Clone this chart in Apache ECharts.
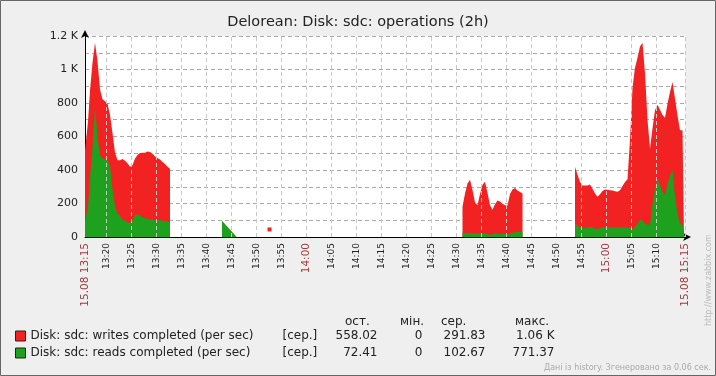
<!DOCTYPE html>
<html>
<head>
<meta charset="utf-8">
<script src="https://cdn.jsdelivr.net/npm/echarts@6/dist/echarts.min.js"></script>
<style>
    html, body {margin: 0; padding: 0; background: #efefef;}
    #chart {width: 716px; height: 376px;}
</style>
</head>
<body>
<div id="chart"></div>
<script>
// graph window: 15.08 13:15:40 .. 15:15:40, x = minutes after left edge
const startMinute = 13 * 60 + 15 + 40 / 60;
const spanMinutes = 120;
const edgeLabels = ['15.08 13:15', '15.08 15:15'];
const tickLabels = ['13:20', '13:25', '13:30', '13:35', '13:40', '13:45', '13:50', '13:55', '14:00',
    '14:05', '14:10', '14:15', '14:20', '14:25', '14:30', '14:35', '14:40', '14:45', '14:50',
    '14:55', '15:00', '15:05', '15:10'];
const redLabels = ['14:00', '15:00'];

const seriesNames = ['Disk: sdc: writes completed (per sec)', 'Disk: sdc: reads completed (per sec)'];
const statHeaders = ['ост.', 'мін.', 'сер.', 'макс.'];
const statLast = ['558.02', '72.41'];
const statMin = ['0', '0'];
const statAvg = ['291.83', '102.67'];
const statMax = ['1.06 K', '771.37'];

// null = no data (gap)
const times = [
    0, 0.4, 0.6, 1, 1.5, 2, 2.5, 3, 3.5, 4, 4.5, 5, 5.5, 6, 6.5, 7, 7.5, 8, 8.5, 9, 9.5,
    10, 10.5, 11, 11.5, 12, 12.5, 13, 13.5, 14, 14.5, 15, 15.5, 16, 16.5, 17,
    17.1,
    27.4, 30.3,
    30.5,
    36.9,
    37,
    75.5, 76, 76.5, 77, 77.5, 78, 78.5, 79, 79.5, 80, 80.5, 81, 81.5, 82, 82.5, 83, 83.5,
    84, 84.5, 85, 85.5, 86, 86.5, 87, 87.5,
    87.6,
    98, 98.5, 99, 99.5, 100, 100.5, 101, 101.5, 102, 102.5,
    103, 103.5, 104, 104.5, 105, 105.5, 106, 106.5, 107, 107.5,
    108, 108.5, 109, 109.5, 110, 110.5, 111, 111.5, 112, 112.5,
    113, 113.5, 114, 114.5, 115, 115.5, 116, 116.5, 117, 117.5,
    118, 118.5, 119, 119.5, 119.8
];
const reads = [
    90, 90, 180, 360, 540, 771, 600, 485, 468, 465, 458, 420, 280, 180, 137, 126, 106, 95, 86, 84, 100,
    128, 138, 128, 118, 113, 109, 105, 103, 100, 100, 100, 98, 96, 92, 86,
    null,
    95, 0,
    null,
    0,
    null,
    26, 25, 24, 24, 23, 23, 22, 22, 22, 22, 18, 14, 16, 22, 20, 16, 20,
    20, 15, 22, 26, 28, 30, 30, 30,
    null,
    80, 67, 56, 52, 54, 56, 60, 56, 50, 50,
    52, 56, 60, 57, 56, 56, 56, 56, 56, 56,
    56, 54, 52, 48, 60, 80, 103, 98, 80, 73,
    74, 200, 289, 345, 308, 270, 249, 315, 368, 400,
    239, 140, 76, 74, 72
];
const writes = [
    427, 427, 510, 515, 500, 389, 450, 395, 354, 345, 339, 310, 340, 325, 321, 332, 360, 360, 354, 336, 328,
    340, 352, 374, 385, 390, 402, 402, 394, 381, 372, 362, 350, 340, 328, 322,
    null,
    0, 0,
    null,
    45,
    null,
    154, 235, 296, 318, 257, 183, 168, 234, 290, 308, 244, 176, 147, 174, 198, 196, 178,
    170, 173, 234, 257, 264, 248, 238, 230,
    null,
    338, 306, 272, 256, 254, 252, 254, 232, 209, 190,
    203, 218, 223, 225, 223, 221, 217, 214, 223, 249,
    272, 291, 528, 842, 950, 990, 1034, 1062, 895, 627,
    453, 450, 467, 445, 452, 458, 463, 481, 498, 525,
    587, 586, 561, 563, 558
];

const colors = ['#f22222', '#1ea21e'];

const tickPos = tickLabels.map(s => {
    const [h, m] = s.split(':').map(Number);
    return h * 60 + m - startMinute;
});
const labelPos = [0].concat(tickPos, [spanMinutes]);
const labelText = [edgeLabels[0]].concat(tickLabels, [edgeLabels[1]]);
const labelMap = {};
labelPos.forEach((p, i) => { labelMap[p.toFixed(3)] = labelText[i]; });

// stacked graph: writes are drawn on top of reads
const isolated = i => writes[i] != null && writes[i - 1] == null && writes[i + 1] == null;
const readsData = times.map((t, i) => [t, reads[i]]);
const totalData = times.map((t, i) => {
    const v = writes[i] == null ? null : writes[i] + (reads[i] || 0);
    if (isolated(i)) {
        return {value: [t, v], symbol: 'rect', symbolSize: 4};
    }
    return [t, v];
});

const chart = echarts.init(document.getElementById('chart'));

const hdr = (x, text) => ({
    type: 'text', x: x, y: 322,
    style: {text: text, font: '12px "DejaVu Sans"', fill: '#222', verticalAlign: 'middle'}
});

const option = {
    backgroundColor: '#efefef',
    animation: false,
    textStyle: {fontFamily: 'DejaVu Sans'},
    title: {
        text: 'Delorean: Disk: sdc: operations (2h)',
        left: 'center',
        top: 10,
        textStyle: {fontSize: 14.5, fontWeight: 'normal', color: '#222', fontFamily: 'DejaVu Sans'}
    },
    grid: {
        left: 85, right: 31, top: 36, bottom: 139,
        show: true, backgroundColor: '#fff', borderWidth: 0
    },
    xAxis: {
        type: 'value',
        min: 0,
        max: spanMinutes,
        axisLine: {
            show: true, onZero: false,
            lineStyle: {color: '#000', width: 1},
            symbol: ['none', 'arrow'], symbolSize: [6, 8], symbolOffset: [0, 6]
        },
        axisTick: {show: false},
        splitLine: {show: false},
        axisLabel: {
            customValues: labelPos,
            rotate: 90,
            margin: 6,
            showMinLabel: true,
            showMaxLabel: true,
            hideOverlap: false,
            formatter: v => {
                const s = labelMap[Number(v).toFixed(3)] || '';
                if (edgeLabels.includes(s) || redLabels.includes(s)) return '{r|' + s + '}';
                return '{k|' + s + '}';
            },
            rich: {
                k: {fontSize: 9, color: '#222', fontFamily: 'DejaVu Sans'},
                r: {fontSize: 10.5, color: '#a03c3c', fontFamily: 'DejaVu Sans'}
            }
        }
    },
    yAxis: {
        type: 'value',
        min: 0,
        max: 1200,
        interval: 100,
        axisLine: {
            show: true,
            lineStyle: {color: '#000', width: 1},
            symbol: ['none', 'arrow'], symbolSize: [6, 8], symbolOffset: [0, 6]
        },
        axisTick: {show: false},
        splitLine: {show: true, lineStyle: {color: '#aaa', type: [4, 3], width: 1}},
        axisLabel: {
            fontSize: 11,
            color: '#222',
            margin: 7,
            formatter: v => {
                if (v % 200 !== 0) return '';
                if (v >= 1000) return (v / 1000) + ' K';
                return String(v);
            }
        }
    },
    legend: {
        orient: 'vertical',
        left: 15,
        top: 330,
        padding: 0,
        itemWidth: 10,
        itemHeight: 10,
        itemGap: 5,
        icon: 'rect',
        itemStyle: {borderColor: '#222', borderWidth: 1},
        data: seriesNames,
        formatter: name => {
            const i = seriesNames.indexOf(name);
            return '{n|' + name + '}{f|[сер.]}{a|' + statLast[i] + '}{b|' + statMin[i] +
                '}{c|' + statAvg[i] + '}{d|' + statMax[i] + '}';
        },
        textStyle: {
            fontSize: 12, color: '#222', lineHeight: 10,
            rich: {
                n: {width: 252, fontSize: 12, lineHeight: 10},
                f: {width: 40, fontSize: 12, lineHeight: 10},
                a: {width: 55, align: 'right', fontSize: 12, lineHeight: 10},
                b: {width: 45, align: 'right', fontSize: 12, lineHeight: 10},
                c: {width: 63, align: 'right', fontSize: 12, lineHeight: 10},
                d: {width: 69, align: 'right', fontSize: 12, lineHeight: 10}
            }
        }
    },
    graphic: [
        hdr(345, statHeaders[0]),
        hdr(400, statHeaders[1]),
        hdr(441, statHeaders[2]),
        hdr(515, statHeaders[3]),
        {
            type: 'text', x: 711, y: 368,
            style: {text: 'Дані із history. Згенеровано за 0.06 сек.', font: '8px "DejaVu Sans"', fill: '#aaa', align: 'right', verticalAlign: 'middle'}
        },
        {
            type: 'text', x: 709, y: 326, rotation: Math.PI / 2,
            style: {text: 'http://www.zabbix.com', font: '8px "DejaVu Sans"', fill: '#bbb', align: 'left', verticalAlign: 'middle'}
        },
        {
            type: 'rect', silent: true, z: 100,
            shape: {x: 0.5, y: 0.5, width: 715, height: 375},
            style: {fill: 'none', stroke: '#666', lineWidth: 1}
        }
    ],
    series: [
        {
            // vertical grid lines every 5 minutes + right border
            type: 'line',
            data: [],
            z: 1,
            silent: true,
            markLine: {
                silent: true,
                symbol: ['none', 'none'],
                label: {show: false},
                emphasis: {disabled: true},
                lineStyle: {color: '#c8c8c8', type: [4, 3], width: 1},
                data: tickPos.concat([spanMinutes]).map(v => ({xAxis: v}))
            }
        },
        {
            name: seriesNames[0],
            type: 'line',
            z: 2,
            data: totalData,
            symbol: 'none',
            showSymbol: true,
            connectNulls: false,
            silent: true,
            itemStyle: {color: colors[0]},
            lineStyle: {width: 0, opacity: 0},
            areaStyle: {color: colors[0], opacity: 1}
        },
        {
            name: seriesNames[1],
            type: 'line',
            z: 3,
            data: readsData,
            symbol: 'none',
            showSymbol: false,
            connectNulls: false,
            silent: true,
            itemStyle: {color: colors[1]},
            lineStyle: {width: 0, opacity: 0},
            areaStyle: {color: colors[1], opacity: 1}
        }
    ]
};

chart.setOption(option);
</script>
</body>
</html>
